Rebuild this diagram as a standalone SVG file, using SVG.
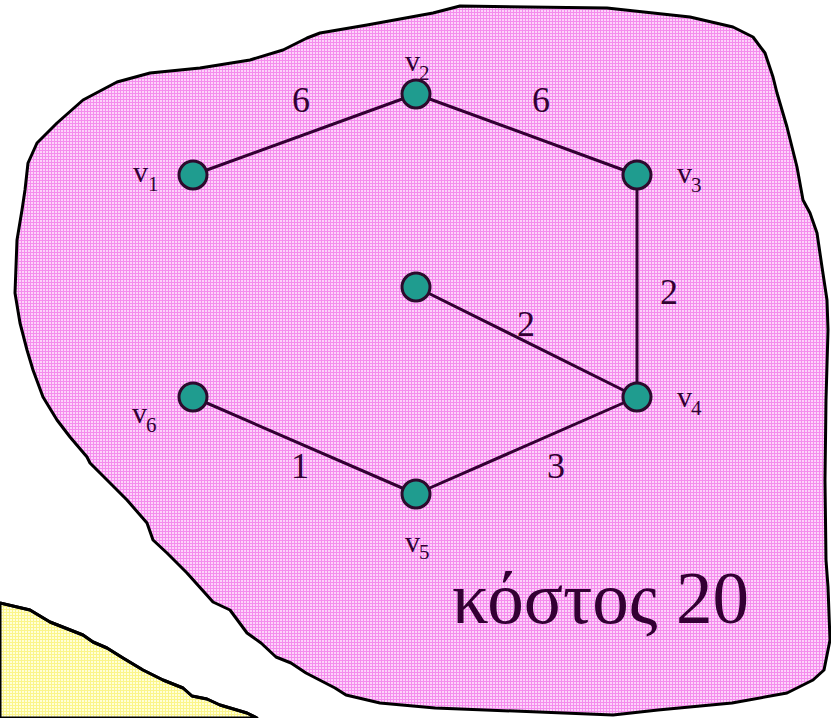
<svg xmlns="http://www.w3.org/2000/svg" width="831" height="718" viewBox="0 0 831 718">
<defs>
<pattern id="pk" width="3" height="3" patternUnits="userSpaceOnUse"><rect width="3" height="3" fill="#fdd4fa"/><path d="M0 0.5H3M0.5 0V3" stroke="#f48ded" stroke-width="1"/></pattern>
<pattern id="yl" width="3" height="3" patternUnits="userSpaceOnUse"><rect width="3" height="3" fill="#ffffd8"/><path d="M0 0.5H3M0.5 0V3" stroke="#fbf58a" stroke-width="1"/></pattern>
</defs>
<style>
.edge{stroke:#330033;stroke-width:3;fill:none}
.node{fill:#1f9c8f;stroke:#2d0a2d;stroke-width:3}
.lbl{font-family:"Liberation Serif","Times New Roman",serif;fill:#330033;font-size:30px}
.sub{font-size:21px}
.w{font-family:"Liberation Serif","Times New Roman",serif;fill:#330033;font-size:36px;text-anchor:middle}
.big{font-family:"Liberation Serif","Times New Roman",serif;fill:#330033;font-size:73px}
.outline{stroke:#000;stroke-width:3;stroke-linejoin:round}
</style>
<rect width="831" height="718" fill="#fff"/>
<path id="yellow" class="outline" fill="url(#yl)" d="M0 603 L30 610 L50 622 L83 635 L93 642 L107 648 L123 658 L143 670 L163 680 L183 688 L192 696 L207 699 L220 705 L247 713 L257 718 L0 718 Z"/>
<path d="M0 603 L30 610 L50 622 L83 635 L93 642 L107 648 L123 658 L143 670 L163 680 L183 688 L192 696 L207 699 L220 705 L247 713 L257 718" class="outline" fill="none"/>
<path id="blob" class="outline" fill="url(#pk)" d="M460 6 L607 8 L690 17 L733 27 L753 37 L765 53 L773 77 L777 93 L787 127 L797 167 L803 200 L810 213 L817 233 L822 267 L827 300 L828 330 L826 400 L825 480 L826 560 L828 587 L830 640 L824 670 L813 680 L787 693 L732 703 L658 710 L613 715 L435 708 L380 703 L346 695 L335 688 L306 673 L291 663 L276 657 L261 643 L247 633 L230 610 L213 602 L187 573 L167 553 L153 540 L147 523 L127 500 L117 490 L100 473 L90 463 L87 457 L70 437 L57 420 L43 397 L33 370 L27 350 L20 323 L15 293 L17 240 L22 210 L25 190 L28 163 L37 143 L57 123 L83 100 L117 82 L150 73 L200 68 L250 60 L283 50 L307 38 L320 33 L367 25 L433 13 Z"/>
<g id="connectors">
<line class="edge" x1="193" y1="175" x2="416" y2="94"/>
<line class="edge" x1="416" y1="94" x2="637" y2="175"/>
<line class="edge" x1="637" y1="175" x2="637" y2="397"/>
<line class="edge" x1="416" y1="287" x2="637" y2="397"/>
<line class="edge" x1="193" y1="397" x2="416" y2="494"/>
<line class="edge" x1="416" y1="494" x2="637" y2="397"/>
<text class="w" x="301" y="112">6</text>
<text class="w" x="541" y="112">6</text>
<text class="w" x="669" y="304">2</text>
<text class="w" x="526" y="336">2</text>
<text class="w" x="300" y="478">1</text>
<text class="w" x="556" y="478">3</text>
</g>
<g id="v1"><circle class="node" cx="193" cy="175" r="14"/><text class="lbl" x="133" y="182">v<tspan class="sub" x="148" y="191">1</tspan></text></g>
<g id="v2"><circle class="node" cx="416" cy="94" r="14"/><text class="lbl" x="405" y="71">v<tspan class="sub" x="419" y="80">2</tspan></text></g>
<g id="v3"><circle class="node" cx="637" cy="175" r="14"/><text class="lbl" x="677" y="183">v<tspan class="sub" x="691" y="192">3</tspan></text></g>
<g id="vx"><circle class="node" cx="416" cy="287" r="14"/></g>
<g id="v4"><circle class="node" cx="637" cy="397" r="14"/><text class="lbl" x="677" y="407">v<tspan class="sub" x="691" y="415">4</tspan></text></g>
<g id="v6"><circle class="node" cx="193" cy="397" r="14"/><text class="lbl" x="132" y="423">v<tspan class="sub" x="146" y="432">6</tspan></text></g>
<g id="v5"><circle class="node" cx="416" cy="494" r="14"/><text class="lbl" x="405" y="552">v<tspan class="sub" x="419" y="559">5</tspan></text></g>
<g id="cost"><text class="big" x="452" y="623">κόστος 20</text></g>
</svg>
